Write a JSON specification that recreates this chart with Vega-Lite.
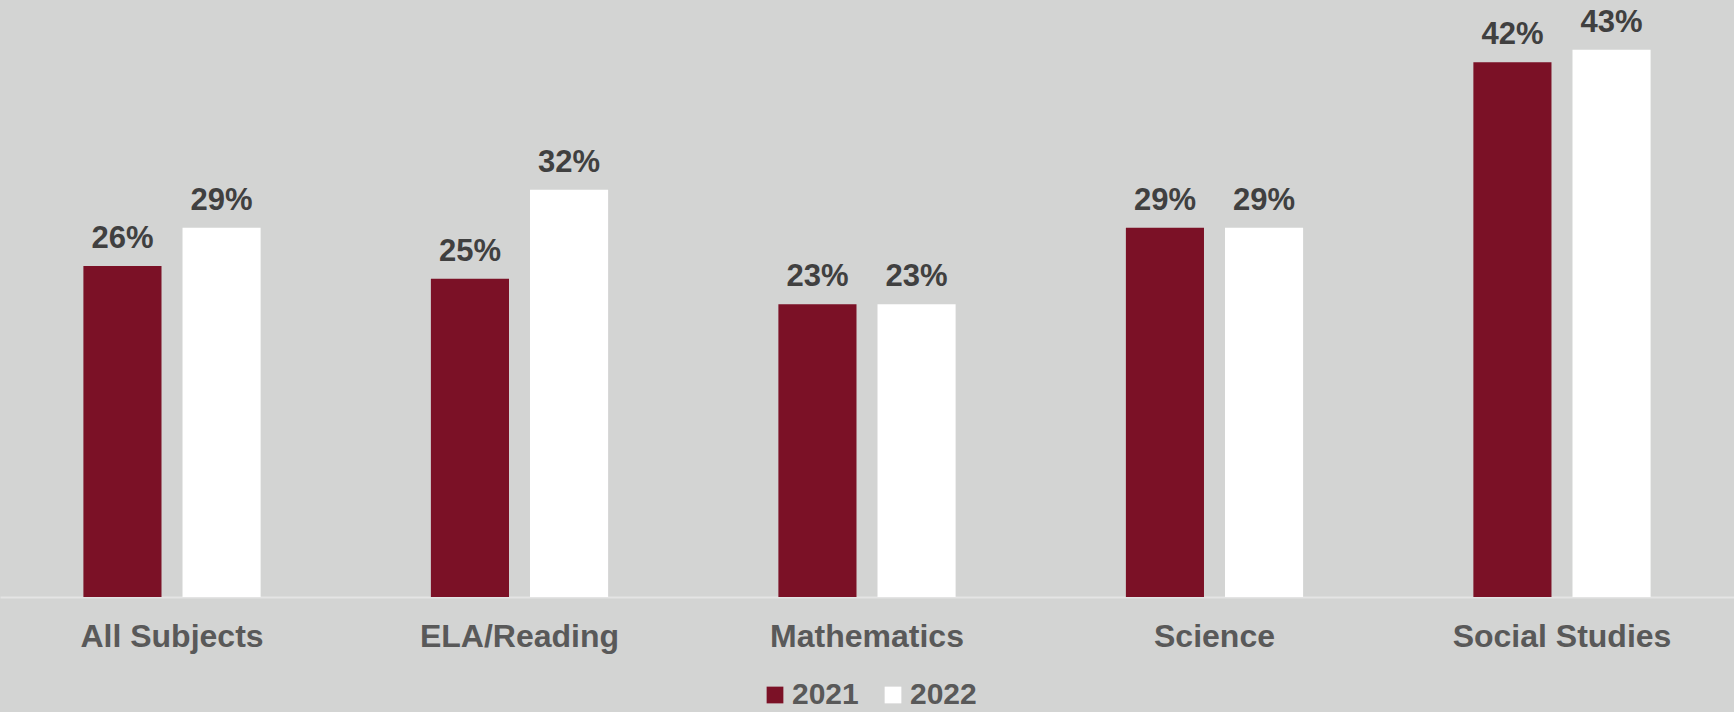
{
  "$schema": "https://vega.github.io/schema/vega-lite/v6.json",
  "width": 1734,
  "height": 597,
  "autosize": "none",
  "padding": {"left": 0, "top": 0, "right": 0, "bottom": 115},
  "background": "#d3d4d3",
  "data": {
    "values": [
      {"subject": "All Subjects", "year": "2021", "pct": 0.26},
      {"subject": "All Subjects", "year": "2022", "pct": 0.29},
      {"subject": "ELA/Reading", "year": "2021", "pct": 0.25},
      {"subject": "ELA/Reading", "year": "2022", "pct": 0.32},
      {"subject": "Mathematics", "year": "2021", "pct": 0.23},
      {"subject": "Mathematics", "year": "2022", "pct": 0.23},
      {"subject": "Science", "year": "2021", "pct": 0.29},
      {"subject": "Science", "year": "2022", "pct": 0.29},
      {"subject": "Social Studies", "year": "2021", "pct": 0.42},
      {"subject": "Social Studies", "year": "2022", "pct": 0.43}
    ]
  },
  "encoding": {
    "x": {
      "field": "subject",
      "type": "nominal",
      "sort": ["All Subjects", "ELA/Reading", "Mathematics", "Science", "Social Studies"],
      "scale": {"paddingInner": 0.49, "paddingOuter": 0.24},
      "axis": {
        "title": null,
        "labelAngle": 0,
        "labelFont": "Liberation Sans",
        "labelFontSize": 32,
        "labelFontWeight": "bold",
        "labelColor": "#595959",
        "labelBaseline": "alphabetic",
        "labelPadding": 49,
        "labelLimit": 0,
        "ticks": false,
        "domainColor": "#e4e4e4",
        "domainWidth": 2,
        "grid": false
      }
    },
    "xOffset": {
      "field": "year",
      "type": "nominal",
      "scale": {"paddingInner": 0.212, "paddingOuter": 0}
    },
    "y": {
      "field": "pct",
      "type": "quantitative",
      "scale": {"domain": [0, 0.469]},
      "axis": null
    }
  },
  "layer": [
    {
      "mark": {"type": "bar"},
      "encoding": {
        "color": {
          "field": "year",
          "type": "nominal",
          "scale": {"domain": ["2021", "2022"], "range": ["#7b1126", "#ffffff"]},
          "legend": {
            "title": null,
            "orient": "none",
            "legendX": 760,
            "legendY": 680,
            "direction": "horizontal",
            "padding": 0,
            "symbolType": "square",
            "symbolSize": 280,
            "symbolStrokeWidth": 0,
            "symbolOpacity": 1,
            "labelFont": "Liberation Sans",
            "labelFontSize": 30,
            "labelFontWeight": "bold",
            "labelColor": "#595959",
            "labelOffset": 2,
            "columnPadding": 19
          }
        }
      }
    },
    {
      "mark": {
        "type": "text",
        "baseline": "alphabetic",
        "dy": -18,
        "font": "Liberation Sans",
        "fontSize": 31,
        "fontWeight": "bold",
        "color": "#404040"
      },
      "encoding": {
        "text": {"field": "pct", "type": "quantitative", "format": ".0%"}
      }
    }
  ],
  "config": {"view": {"stroke": null}}
}
